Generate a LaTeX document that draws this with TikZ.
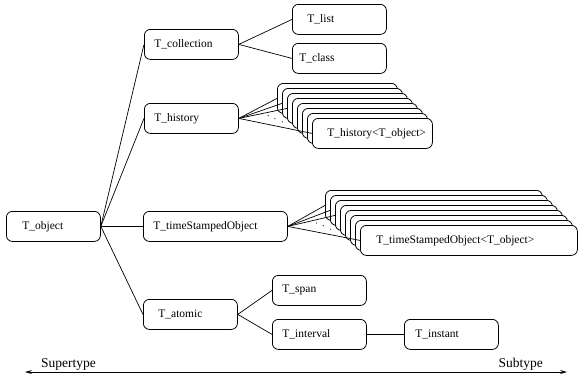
\documentclass[tikz,border=0pt]{standalone}
\usepackage{fontspec}
\setmainfont{Liberation Serif}
\usetikzlibrary{arrows.meta,calc}
\tikzset{
  tbox/.style={draw, line width=0.8pt, rounded corners=6pt, fill=white,
    minimum height=30pt, inner ysep=0pt, anchor=north west, align=left,
    font=\fontsize{11.5}{13}\selectfont},
  link/.style={line width=0.7pt},
  axislabel/.style={font=\fontsize{13.5}{15}\selectfont, inner sep=0pt}
}

\begin{document}
\begin{tikzpicture}[x=1pt, y=-1pt]
  \useasboundingbox (0,0) rectangle (579,384);

  % Supertypes
  \node[tbox, text width=62pt, inner xsep=16pt] (object) at (6,211) {T\_object};
  \node[tbox, text width=74pt, inner xsep=10pt] (collection) at (144,29) {T\_collection};
  \node[tbox, text width=74pt, inner xsep=10pt] (history) at (144,103) {T\_history};
  \node[tbox, text width=124pt, inner xsep=10pt] (tso) at (143,211) {T\_timeStampedObject};
  \node[tbox, text width=64pt, inner xsep=15pt] (atomic) at (143,299) {T\_atomic};

  % Subtypes of T_collection
  \node[tbox, text width=64pt, inner xsep=15pt] (list) at (292,4) {T\_list};
  \node[tbox, text width=80pt, inner xsep=7pt] (class) at (292,43) {T\_class};

  % Subtypes of T_atomic
  \node[tbox, text width=74pt, inner xsep=10pt] (span) at (272,275) {T\_span};
  \node[tbox, text width=74pt, inner xsep=10pt] (interval) at (272,319) {T\_interval};
  \node[tbox, text width=72pt, inner xsep=11pt] (instant) at (404,319) {T\_instant};

  % Stack of T_history<T_object>
  \foreach \i in {0,...,6} {
    \node[tbox, minimum width=120pt] (hst\i) at (277+5*\i, 83+5*\i) {};
  }
  \node[tbox, text width=90pt, inner xsep=15pt] (histobj) at (312,118) {T\_history<T\_object>};

  % Stack of T_timeStampedObject<T_object>
  \foreach \i in {0,...,6} {
    \node[tbox, minimum width=217pt] (tst\i) at (325+5*\i, 190+5*\i) {};
  }
  \node[tbox, text width=185pt, inner xsep=16pt] (tsoobj) at (360,225) {T\_timeStampedObject<T\_object>};

  % Links
  \foreach \n in {collection, history, tso, atomic} {
    \draw[link] (object.east) -- (\n.west);
  }
  \draw[link] (collection.east) -- (list.west);
  \draw[link] (collection.east) -- (class.west);
  \foreach \n in {hst0, hst1, hst2, histobj} {
    \draw[link] (history.east) -- (\n.west);
  }
  \foreach \n in {tst0, tst1, tst2, tsoobj} {
    \draw[link] (tso.east) -- (\n.west);
  }
  \draw[link] (atomic.east) -- (span.west);
  \draw[link] (atomic.east) -- (interval.west);
  \draw[link] (interval.east) -- (instant.west);

  % Dots for the omitted links
  \fill ($(history.east)!0.55!(hst3.west)$) circle (0.6pt);
  \fill ($(history.east)!0.62!(hst4.west)$) circle (0.6pt);
  \fill ($(history.east)!0.69!(hst5.west)$) circle (0.6pt);
  \fill ($(tso.east)!0.55!(tst3.west)$) circle (0.6pt);
  \fill ($(tso.east)!0.62!(tst4.west)$) circle (0.6pt);
  \fill ($(tso.east)!0.69!(tst5.west)$) circle (0.6pt);

  % Axis
  \coordinate (axl) at (25,372);
  \coordinate (axr) at (567,372);
  \draw[line width=0.7pt, {Stealth[length=7pt,width=4pt,inset=2.5pt]}-{Stealth[length=7pt,width=4pt,inset=2.5pt]}] (axl) -- (axr);
  \node[axislabel, anchor=base west] (super) at (41,367) {Supertype};
  \node[axislabel, anchor=base east] (sub) at (543,367) {Subtype};
\end{tikzpicture}
\end{document}
